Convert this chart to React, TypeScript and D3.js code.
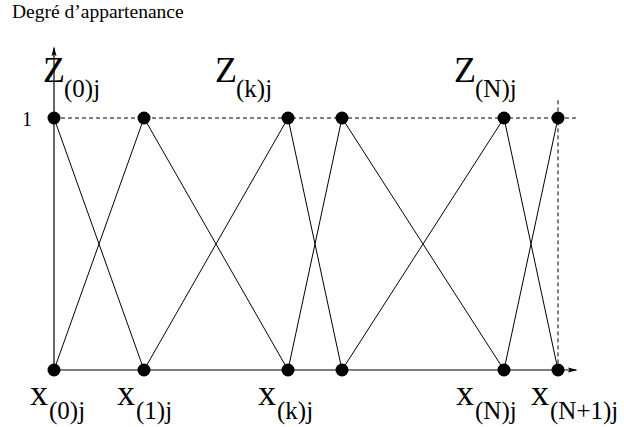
import React from "react";
import * as d3 from "d3";

// Support points of the triangular membership functions (abscissa units)
const nodeValues = [0, 1, 2.6, 3.2, 5, 5.6];
// Membership degree at the peak of each function
const peakDegree = 1;

// Labels under the abscissa: [node index, main letter, subscript]
const xLabelNodes = [0, 1, 2, 4, 5];
const xLabelSubs = ["(0)j", "(1)j", "(k)j", "(N)j", "(N+1)j"];
// Horizontal nudges of the labels relative to their node
const xLabelNudge = [-24, -27, -30, -48, -27];

// Labels of the fuzzy sets above the peaks
const zLabelNodes = [0, 2, 4];
const zLabelSubs = ["(0)j", "(k)j", "(N)j"];
const zLabelNudge = [-11, -73, -50];

const yTickValues = [1];
const yTickLabels = ["1"];
const yTitle = "Degré d’appartenance";

const W = 624;
const H = 427;
const FONT = "'Liberation Serif', 'Times New Roman', serif";

export default function App() {
  const x = d3.scaleLinear().domain([0, 5.8]).range([54, 576]);
  const y = d3.scaleLinear().domain([0, 1]).range([370, 118]);

  const r = 6.5;
  const line = d3
    .line<[number, number]>()
    .x((d) => x(d[0]))
    .y((d) => y(d[1]));

  // Each triangle: zero at previous node, peak at its own node, zero at next node
  const segments: [number, number][][] = [];
  nodeValues.forEach((v, i) => {
    if (i > 0) segments.push([[nodeValues[i - 1], 0], [v, peakDegree]]);
    if (i < nodeValues.length - 1) segments.push([[v, peakDegree], [nodeValues[i + 1], 0]]);
  });

  const x0 = x(0);
  const y0 = y(0);
  const yTop = y(1.285);
  const xEnd = x(5.82);
  const lastX = x(nodeValues[nodeValues.length - 1]);

  return (
    <svg
      width={W}
      height={H}
      style={{ position: "absolute", left: 0, top: 0, background: "#fff" }}
      fontFamily={FONT}
    >
      <rect width={W} height={H} fill="#fff" />
      <text x={12} y={18} fontSize={19.5} fill="#000">
        {yTitle}
      </text>

      {/* dashed guide at membership 1 and at the last node */}
      <line
        x1={x0}
        x2={x(5.83)}
        y1={y(1)}
        y2={y(1)}
        stroke="#000"
        strokeWidth={1}
        strokeDasharray="4 3"
      />
      <line
        x1={lastX}
        x2={lastX}
        y1={y(1.07)}
        y2={y0}
        stroke="#000"
        strokeWidth={1}
        strokeDasharray="4 3"
      />

      {/* axes */}
      <line x1={x0} x2={x0} y1={y0} y2={yTop + 2} stroke="#000" strokeWidth={1.2} />
      <path
        d={`M${x0},${yTop} L${x0 - 2.5},${yTop + 10} L${x0},${yTop + 8} L${x0 + 2.5},${yTop + 10} Z`}
        fill="#000"
      />
      <line x1={x0} x2={xEnd - 2} y1={y0} y2={y0} stroke="#000" strokeWidth={1.2} />
      <path
        d={`M${xEnd},${y0} L${xEnd - 10},${y0 - 2.5} L${xEnd - 8},${y0} L${xEnd - 10},${y0 + 2.5} Z`}
        fill="#000"
      />

      {yTickValues.map((t, i) => (
        <text key={t} x={22} y={y(t) + 8} fontSize={20} fill="#000">
          {yTickLabels[i]}
        </text>
      ))}

      {/* membership triangles */}
      {segments.map((s, i) => (
        <path key={i} d={line(s) || ""} stroke="#000" strokeWidth={1} fill="none" />
      ))}

      {nodeValues.map((v, i) => (
        <g key={i}>
          <circle cx={x(v)} cy={y(peakDegree)} r={r} fill="#000" />
          <circle cx={x(v)} cy={y(0)} r={r} fill="#000" />
        </g>
      ))}

      {zLabelNodes.map((n, i) => (
        <text key={"z" + i} x={x(nodeValues[n]) + zLabelNudge[i]} y={82} fontSize={36} fill="#000">
          Z
          <tspan dx={-1} dy={15} fontSize={25}>
            {zLabelSubs[i]}
          </tspan>
        </text>
      ))}

      {xLabelNodes.map((n, i) => (
        <text key={"x" + i} x={x(nodeValues[n]) + xLabelNudge[i]} y={405} fontSize={36} fill="#000">
          x
          <tspan dx={1} dy={14} fontSize={25}>
            {xLabelSubs[i]}
          </tspan>
        </text>
      ))}
    </svg>
  );
}
